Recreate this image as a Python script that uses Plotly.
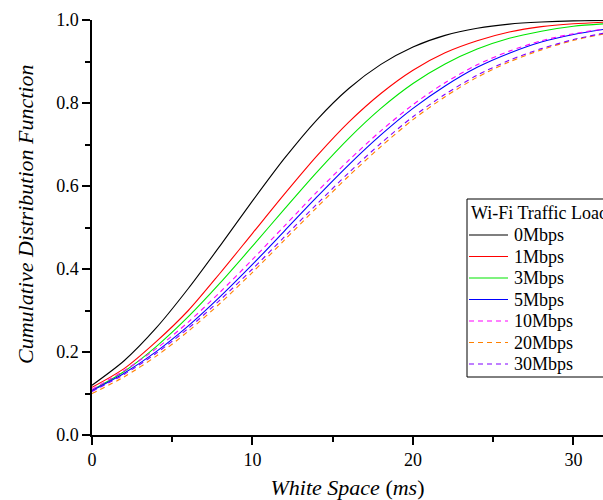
import plotly.graph_objects as go

x_ms = [0, 2, 4, 6, 8, 10, 12, 14, 16, 18, 20, 22, 24, 26, 28, 30, 32]

cdf_0mbps = [0.120, 0.179, 0.258, 0.353, 0.457, 0.564, 0.667, 0.759, 0.835, 0.893, 0.935, 0.963, 0.980, 0.990, 0.995, 0.998, 0.999]
cdf_1mbps = [0.115, 0.160, 0.225, 0.300, 0.391, 0.486, 0.581, 0.672, 0.754, 0.823, 0.879, 0.921, 0.950, 0.971, 0.984, 0.991, 0.995]
cdf_3mbps = [0.108, 0.153, 0.213, 0.285, 0.367, 0.455, 0.545, 0.633, 0.715, 0.787, 0.847, 0.894, 0.930, 0.956, 0.973, 0.985, 0.991]
cdf_5mbps = [0.107, 0.149, 0.201, 0.263, 0.334, 0.411, 0.492, 0.573, 0.651, 0.723, 0.787, 0.841, 0.886, 0.920, 0.947, 0.965, 0.978]
cdf_10mbps = [0.110, 0.155, 0.208, 0.272, 0.345, 0.423, 0.504, 0.585, 0.662, 0.733, 0.796, 0.849, 0.892, 0.925, 0.950, 0.967, 0.979]
cdf_20mbps = [0.100, 0.140, 0.190, 0.250, 0.318, 0.392, 0.470, 0.548, 0.624, 0.695, 0.760, 0.815, 0.862, 0.899, 0.928, 0.951, 0.967]
cdf_30mbps = [0.105, 0.146, 0.197, 0.257, 0.326, 0.400, 0.478, 0.556, 0.632, 0.703, 0.767, 0.821, 0.867, 0.903, 0.931, 0.953, 0.969]

series_names = ["0Mbps", "1Mbps", "3Mbps", "5Mbps", "10Mbps", "20Mbps", "30Mbps"]
series_vals = [cdf_0mbps, cdf_1mbps, cdf_3mbps, cdf_5mbps, cdf_10mbps, cdf_20mbps, cdf_30mbps]
series_colors = ["#000000", "#FF0000", "#00E600", "#0000FF", "#FF00FF", "#FF8000", "#8000FF"]
series_dash = ["solid", "solid", "solid", "solid", "5px,4px", "5px,4px", "5px,4px"]
legend_title = "Wi-Fi Traffic Load"
x_title = "<i>White Space</i> (<i>ms</i>)"
y_title = "<i>Cumulative Distribution Function</i>"

font_family = "Liberation Serif, Times New Roman, serif"

FIG_W, FIG_H = 603, 500
M_L, M_R, M_T, M_B = 92, 0, 20, 65
PLOT_W = FIG_W - M_L - M_R
PLOT_H = FIG_H - M_T - M_B


def px_x(page_x):
    return (page_x - M_L) / PLOT_W


def px_y(page_y):
    return 1 - (page_y - M_T) / PLOT_H


fig = go.Figure()
for name, vals, col, dash in zip(series_names, series_vals, series_colors, series_dash):
    fig.add_trace(go.Scatter(
        x=x_ms, y=vals, name=name, mode="lines", showlegend=False,
        line=dict(color=col, width=1.1, dash=dash, shape="spline", smoothing=0.8),
    ))

# custom legend box (placement only; styles from series lists)
shapes = [dict(type="rect", xref="paper", yref="paper",
               x0=px_x(467), x1=1.05, y0=px_y(377), y1=px_y(199),
               line=dict(color="black", width=1), fillcolor="white", layer="above")]
annotations = [dict(xref="paper", yref="paper", x=px_x(469), y=px_y(213),
                    xanchor="left", yanchor="middle", text=legend_title, showarrow=False,
                    font=dict(size=18, family=font_family, color="black"))]
row0, row_step = 235, 21.5
for i, (name, col, dash) in enumerate(zip(series_names, series_colors, series_dash)):
    yy = px_y(row0 + i * row_step)
    shapes.append(dict(type="line", xref="paper", yref="paper",
                       x0=px_x(469), x1=px_x(508), y0=yy, y1=yy,
                       line=dict(color=col, width=1.2, dash=dash), layer="above"))
    annotations.append(dict(xref="paper", yref="paper", x=px_x(512), y=yy,
                            xanchor="left", yanchor="middle", text=name, showarrow=False,
                            font=dict(size=18, family=font_family, color="black")))

# y-axis title as annotation (placed as in the reference)
annotations.append(dict(xref="paper", yref="paper", x=px_x(25), y=px_y(215),
                        xanchor="center", yanchor="middle", text=y_title, textangle=-90,
                        showarrow=False, font=dict(size=22, family=font_family, color="black")))

fig.update_layout(
    width=FIG_W, height=FIG_H,
    margin=dict(l=M_L, r=M_R, t=M_T, b=M_B),
    paper_bgcolor="white", plot_bgcolor="white",
    font=dict(family=font_family, size=18, color="black"),
    showlegend=False,
    shapes=shapes, annotations=annotations,
    xaxis=dict(
        range=[0, 31.84], tickvals=[0, 10, 20, 30], ticktext=["0", "10", "20", "30"],
        ticks="outside", ticklen=8, tickwidth=1.5, tickcolor="black",
        minor=dict(tickvals=[5, 15, 25], ticks="outside", ticklen=5, tickwidth=1.5, tickcolor="black"),
        showline=True, linecolor="black", linewidth=1.5, showgrid=False, zeroline=False,
        title=dict(text=x_title, font=dict(size=22), standoff=14),
        tickfont=dict(size=18),
    ),
    yaxis=dict(
        range=[0, 1.0], tickvals=[0, 0.2, 0.4, 0.6, 0.8, 1.0], tickformat=".1f",
        ticks="outside", ticklen=8, tickwidth=1.5, tickcolor="black",
        minor=dict(tickvals=[0.1, 0.3, 0.5, 0.7, 0.9], ticks="outside", ticklen=5, tickwidth=1.5, tickcolor="black"),
        showline=True, linecolor="black", linewidth=1.5, showgrid=False, zeroline=False,
        tickfont=dict(size=18),
    ),
)

fig.write_html("out.html", config={"displayModeBar": False},
               post_script="document.body.style.margin='0';document.body.style.overflow='hidden';")
